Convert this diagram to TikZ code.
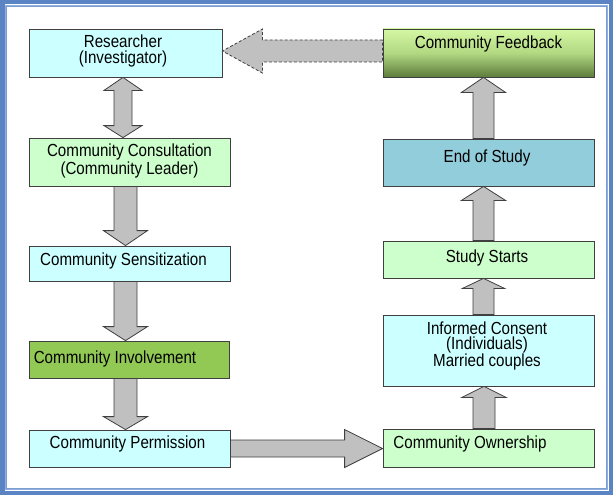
\documentclass[tikz,border=0pt]{standalone}
\usepackage{fontspec}
\setmainfont{Liberation Sans}[FakeStretch=0.865]
\usetikzlibrary{calc}
\definecolor{cyanbox}{HTML}{CCFFFF}
\definecolor{greenbox}{HTML}{CCFFCC}
\definecolor{midgreen}{HTML}{92C955}
\definecolor{bluebox}{HTML}{92CDDC}
\definecolor{fbtop}{HTML}{D4F7A4}
\definecolor{fbmid}{HTML}{B2D882}
\definecolor{fbbot}{HTML}{5C7C3C}
\definecolor{frameblue}{HTML}{5B84C4}
\definecolor{framelight}{HTML}{8FB0E0}
\definecolor{arrowgray}{HTML}{C0C0C0}
\definecolor{edgegray}{HTML}{404040}
\tikzset{
  box/.style={draw=edgegray, line width=0.8pt, inner sep=0pt, rectangle},
  txt/.style={inner sep=0pt, align=center, font=\fontsize{17.5pt}{15.5pt}\selectfont},
  blk/.style={fill=arrowgray, draw=edgegray, line width=0.8pt, line join=miter},
}
% down arrow: #1 top node, #2 bottom node, #3 x centre, #4 shaft half, #5 head half, #6 head length
\newcommand\downblk[6]{%
  \draw[blk] let \p1=(#1.south), \p2=(#2.north) in
    ({(#3-#4)*1pt},{\y1}) -- ({(#3-#4)*1pt},{\y2+#6pt}) -- ({(#3-#5)*1pt},{\y2+#6pt})
    -- ({#3*1pt},{\y2}) -- ({(#3+#5)*1pt},{\y2+#6pt}) -- ({(#3+#4)*1pt},{\y2+#6pt})
    -- ({(#3+#4)*1pt},{\y1}) -- cycle;}
% up arrow: #1 bottom node, #2 top node
\newcommand\upblk[6]{%
  \draw[blk] let \p1=(#1.north), \p2=(#2.south) in
    ({(#3-#4)*1pt},{\y1}) -- ({(#3-#4)*1pt},{\y2-#6pt}) -- ({(#3-#5)*1pt},{\y2-#6pt})
    -- ({#3*1pt},{\y2}) -- ({(#3+#5)*1pt},{\y2-#6pt}) -- ({(#3+#4)*1pt},{\y2-#6pt})
    -- ({(#3+#4)*1pt},{\y1}) -- cycle;}
% double vertical arrow: #1 top node, #2 bottom node, #6 top head length, #7 bottom head length
\newcommand\dblblk[7]{%
  \draw[blk] let \p1=(#1.south), \p2=(#2.north) in
    ({#3*1pt},{\y1}) -- ({(#3+#5)*1pt},{\y1-#6pt}) -- ({(#3+#4)*1pt},{\y1-#6pt})
    -- ({(#3+#4)*1pt},{\y2+#7pt}) -- ({(#3+#5)*1pt},{\y2+#7pt}) -- ({#3*1pt},{\y2})
    -- ({(#3-#5)*1pt},{\y2+#7pt}) -- ({(#3-#4)*1pt},{\y2+#7pt}) -- ({(#3-#4)*1pt},{\y1-#6pt})
    -- ({(#3-#5)*1pt},{\y1-#6pt}) -- cycle;}
% right arrow: #1 left node, #2 right node, #3 y centre (down), #4 shaft half, #5 head half, #6 head length
\newcommand\rightblk[6]{%
  \draw[blk] let \p1=(#1.east), \p2=(#2.west) in
    ({\x1},{-(#3-#4)*1pt}) -- ({\x2-#6pt},{-(#3-#4)*1pt}) -- ({\x2-#6pt},{-(#3-#5)*1pt})
    -- ({\x2},{-#3*1pt}) -- ({\x2-#6pt},{-(#3+#5)*1pt}) -- ({\x2-#6pt},{-(#3+#4)*1pt})
    -- ({\x1},{-(#3+#4)*1pt}) -- cycle;}
% left arrow: #1 right node (start), #2 left node (target)
\newcommand\leftblk[7]{%
  \draw[blk,#7] let \p1=(#1.west), \p2=(#2.east) in
    ({\x1},{-(#3-#4)*1pt}) -- ({\x2+#6pt},{-(#3-#4)*1pt}) -- ({\x2+#6pt},{-(#3-#5)*1pt})
    -- ({\x2},{-#3*1pt}) -- ({\x2+#6pt},{-(#3+#5)*1pt}) -- ({\x2+#6pt},{-(#3+#4)*1pt})
    -- ({\x1},{-(#3+#4)*1pt}) -- cycle;}
\begin{document}
\begin{tikzpicture}[x=1pt,y=-1pt]
  % background and frame
  \fill[white] (0,0) rectangle (613,495);
  \useasboundingbox (0,0) rectangle (613,495);
  \draw[frameblue, line width=4.5pt] (2.25,2.25) rectangle (610.75,492.75);
  \draw[framelight, line width=1.2pt] (5.2,5.2) rectangle (607.8,489.8);
  \draw[frameblue!80, line width=0.8pt] (6.5,6.5) rectangle (606.5,488.5);

  % left column boxes
  \node[box, fill=cyanbox, minimum width=193pt, minimum height=48pt] (res) at (125.5,53) {};
  \node[box, fill=greenbox, minimum width=201pt, minimum height=48pt] (cons) at (129.5,162) {};
  \node[box, fill=cyanbox, minimum width=201pt, minimum height=35pt] (sens) at (129.5,263.5) {};
  \node[box, fill=midgreen, minimum width=200pt, minimum height=37pt] (inv) at (129,359.5) {};
  \node[box, fill=cyanbox, minimum width=201pt, minimum height=37pt] (perm) at (129.5,448.5) {};

  % right column boxes
  \node[box, top color=fbtop, bottom color=fbbot, middle color=fbmid, minimum width=211pt, minimum height=48pt] (fb) at (488.5,53) {};
  \node[box, fill=bluebox, minimum width=211pt, minimum height=47pt] (eos) at (488.5,162.5) {};
  \node[box, fill=greenbox, minimum width=211pt, minimum height=37pt] (ss) at (488.5,259.5) {};
  \node[box, fill=cyanbox, minimum width=211pt, minimum height=71pt] (inf) at (488.5,350.5) {};
  \node[box, fill=greenbox, minimum width=211pt, minimum height=38pt] (own) at (488.5,448) {};

  % texts
  \node[txt] (tres) at (123,51) {Researcher\\(Investigator)};
  \node[txt] (tcons) at (129.5,161) {Community Consultation\\(Community Leader)};
  \node[txt] (tsens) at (123.5,261) {Community Sensitization};
  \node[txt] (tinv) at (115,359) {Community Involvement};
  \node[txt] (tperm) at (127.5,444) {Community Permission};
  \node[txt] (tfb) at (488.5,44) {Community Feedback};
  \node[txt] (teos) at (487,158) {End of Study};
  \node[txt] (tss) at (487,258) {Study Starts};
  \node[txt] (tinf) at (487,346) {Informed Consent\\(Individuals)\\Married couples};
  \node[txt] (town) at (470,444) {Community Ownership};

  % block arrows
  \dblblk{res}{cons}{123}{9}{19}{13}{12}
  \downblk{cons}{sens}{125.5}{11.5}{22}{15}
  \downblk{sens}{inv}{125.5}{11.5}{22}{14}
  \downblk{inv}{perm}{125.5}{11.5}{22}{13}
  \rightblk{perm}{own}{448.5}{8.5}{19}{38}
  \upblk{own}{inf}{484}{11}{22}{11}
  \upblk{inf}{ss}{483.5}{10.5}{21}{10}
  \upblk{ss}{eos}{483.5}{10.5}{22}{14}
  \upblk{eos}{fb}{483.5}{10.5}{22}{15}
  \leftblk{fb}{res}{51}{11}{22}{40}{dashed, dash pattern=on 3pt off 2pt}
\end{tikzpicture}
\end{document}
